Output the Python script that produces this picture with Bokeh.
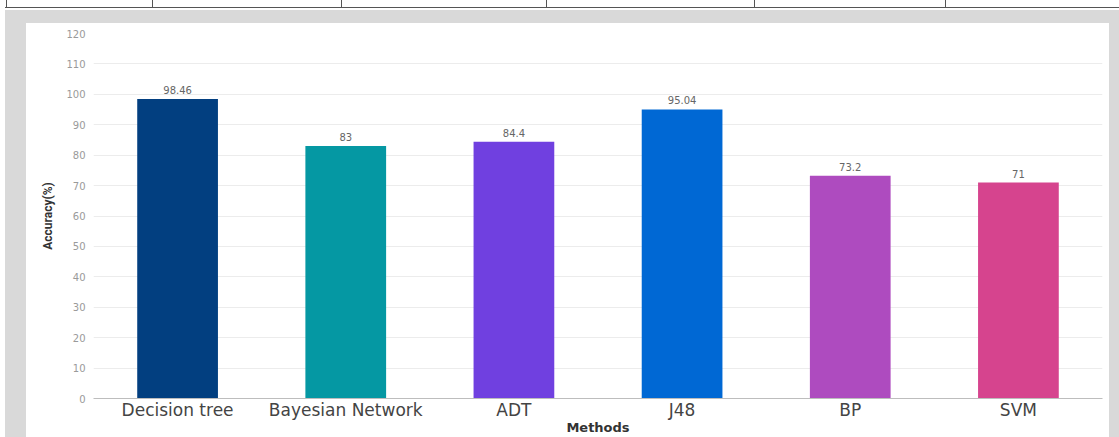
from bokeh.plotting import figure
from bokeh.models import ColumnDataSource, FactorRange, Range1d, FixedTicker, Div, Spacer
from bokeh.layouts import column, row
from bokeh.core.properties import value
from bokeh.embed import file_html
from bokeh.resources import INLINE

# Classification accuracy per method
methods = ["Decision tree", "Bayesian Network", "ADT", "J48", "BP", "SVM"]
accuracy = [98.46, 83, 84.4, 95.04, 73.2, 71]
value_labels = ["98.46", "83", "84.4", "95.04", "73.2", "71"]
bar_colors = ["#023f80", "#0598a3", "#7040e0", "#0068d4", "#ae4bbf", "#d6448e"]
y_ticks = list(range(0, 121, 10))

GREY = "#d9d9d9"
RULE = "#555555"

source = ColumnDataSource(dict(method=methods, acc=accuracy, lab=value_labels, color=bar_colors))

# white chart card
p = figure(
    width=1083, height=414,
    x_range=FactorRange(*methods, range_padding=0),
    y_range=Range1d(0, 120),
    output_backend="svg", toolbar_location=None,
    min_border_left=67, min_border_right=7, min_border_top=10, min_border_bottom=39,
    background_fill_color="white", border_fill_color="white", outline_line_color=None,
)

p.vbar(x="method", top="acc", width=0.48, color="color", line_color=None, source=source)

p.text(x="method", y="acc", text="lab", source=source,
       text_align="center", text_baseline="bottom", y_offset=-5,
       text_font=value("DejaVu Sans"), text_font_size="10px", text_color="#666666")

# grid
p.xgrid.grid_line_color = None
p.ygrid.ticker = FixedTicker(ticks=y_ticks)
p.ygrid.grid_line_color = "#ececec"

# y axis
p.yaxis.ticker = FixedTicker(ticks=y_ticks)
p.yaxis.axis_line_color = None
p.yaxis.major_tick_line_color = None
p.yaxis.minor_tick_line_color = None
p.yaxis.major_tick_out = 0
p.yaxis.major_tick_in = 0
p.yaxis.minor_tick_out = 0
p.yaxis.major_label_standoff = 8
p.yaxis.major_label_text_font = "DejaVu Sans"
p.yaxis.major_label_text_font_size = "10px"
p.yaxis.major_label_text_color = "#9a9a9a"
p.yaxis.axis_label = "Accuracy(%)"
p.yaxis.axis_label_text_font = "Roboto"
p.yaxis.axis_label_text_font_size = "12px"
p.yaxis.axis_label_text_font_style = "bold"
p.yaxis.axis_label_text_color = "#333333"
p.yaxis.axis_label_standoff = 8

# x axis
p.xaxis.axis_line_color = "#bdbdbd"
p.xaxis.major_tick_line_color = None
p.xaxis.minor_tick_line_color = None
p.xaxis.major_tick_out = 0
p.xaxis.major_tick_in = 0
p.xaxis.minor_tick_out = 0
p.xaxis.major_label_standoff = 1
p.xaxis.major_label_text_font = "DejaVu Sans"
p.xaxis.major_label_text_font_size = "17px"
p.xaxis.major_label_text_color = "#444444"
p.xaxis.axis_label = "Methods"
p.xaxis.axis_label_text_font = "DejaVu Sans"
p.xaxis.axis_label_text_font_size = "13px"
p.xaxis.axis_label_text_font_style = "bold"
p.xaxis.axis_label_text_color = "#333333"
p.xaxis.axis_label_standoff = -3

# table rule above the grey surround
cells = [6, 152, 341, 546, 754, 945]
vlines = "".join(
    f'<div style="position:absolute;left:{x}px;top:0px;width:1px;height:8px;background:{RULE};"></div>'
    for x in cells
)
header_html = (
    '<div style="position:relative;width:1119px;height:23px;margin:0;padding:0;">'
    f'<div style="position:absolute;left:5px;top:10px;width:1114px;height:13px;background:{GREY};"></div>'
    f'<div style="position:absolute;left:5px;top:7px;width:1114px;height:1px;background:{RULE};"></div>'
    f'{vlines}</div>'
)
header = Div(text=header_html, width=1119, height=23, margin=0)

left_white = Spacer(width=5, height=414, margin=0)
left_grey = Spacer(width=21, height=414, margin=0, styles={"background-color": GREY})
right_grey = Spacer(width=10, height=414, margin=0, styles={"background-color": GREY})
p.margin = 0

layout = column(header, row(left_white, left_grey, p, right_grey, spacing=0, margin=0),
                spacing=0, margin=0)

open("out.html", "w").write(file_html(layout, INLINE))
